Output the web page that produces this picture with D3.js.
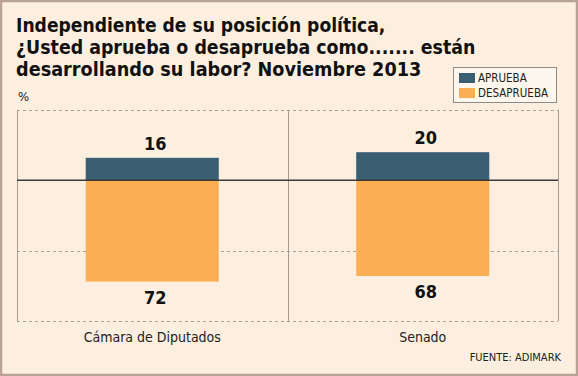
<!DOCTYPE html>
<html>
<head>
<meta charset="utf-8">
<script src="https://cdn.jsdelivr.net/npm/d3@7"></script>
<style>
  html, body { margin: 0; padding: 0; background: #fcefdf; }
  #chart { width: 578px; height: 376px; }
  text { font-family: "DejaVu Sans", Verdana, sans-serif; font-stretch: condensed; }
  text.title { font-stretch: normal; }
</style>
</head>
<body>
<div id="chart"></div>
<script>
const categories = ["Cámara de Diputados", "Senado"];
const aprueba = [16, 20];
const desaprueba = [72, 68];
const seriesNames = ["APRUEBA", "DESAPRUEBA"];
const gridValues = [50, 0, -50, -100];
const titleLines = [
  "Independiente de su posición política,",
  "¿Usted aprueba o desaprueba como....... están",
  "desarrollando su labor? Noviembre 2013"
];
const titleWidths = [369, 459, 405];
const source = "FUENTE: ADIMARK";

const width = 578;
const height = 376;
const margin = {top: 110, left: 17, right: 20, bottom: 55};
const colors = {aprueba: "#3a5f72", desaprueba: "#fbaf55"};

const svg = d3.select("#chart")
    .append("svg")
    .attr("width", width)
    .attr("height", height);

// background + outer frame
svg.append("rect")
    .attr("x", 1).attr("y", 1)
    .attr("width", width - 2).attr("height", height - 2)
    .attr("fill", "#fcefdf")
    .attr("stroke", "#b8a294")
    .attr("stroke-width", 2.5);

const xScale = d3.scaleBand()
    .domain(categories)
    .range([margin.left, width - margin.right])
    .paddingInner(0.508)
    .paddingOuter(0.254);

// panels (one per category)
const panelScale = d3.scaleBand()
    .domain(categories)
    .range([margin.left, width - margin.right]);

const yScale = d3.scaleLinear()
    .domain([-100, 50])
    .range([height - margin.bottom, margin.top]);

// title - squeezed horizontally to the width of the original lettering
svg.selectAll(".title")
    .data(titleLines)
    .enter()
    .append("text")
      .attr("class", "title")
      .attr("x", 0)
      .attr("y", 0)
      .attr("font-size", 18.8)
      .attr("font-weight", "bold")
      .attr("fill", "#111")
      .text(d => d)
      .attr("transform", function(d, i) {
        const sx = titleWidths[i] / this.getComputedTextLength();
        return `translate(16,${32 + i * 22}) scale(${sx},1)`;
      });

svg.append("text")
    .attr("x", 18)
    .attr("y", 101)
    .attr("font-size", 13)
    .attr("fill", "#222")
    .text("%");

// gridlines
svg.selectAll(".grid")
    .data(gridValues.filter(d => d !== 0))
    .enter()
    .append("line")
      .attr("class", "grid")
      .attr("x1", margin.left)
      .attr("x2", width - margin.right)
      .attr("y1", d => Math.round(yScale(d)) + 0.5)
      .attr("y2", d => Math.round(yScale(d)) + 0.5)
      .attr("stroke", "#aaa095")
      .attr("stroke-dasharray", "3,3");

// panel borders
const vLines = categories.map(c => panelScale(c)).concat([width - margin.right]);
svg.selectAll(".vline")
    .data(vLines)
    .enter()
    .append("line")
      .attr("class", "vline")
      .attr("x1", d => Math.round(d) + 0.5)
      .attr("x2", d => Math.round(d) + 0.5)
      .attr("y1", yScale(50))
      .attr("y2", yScale(-100))
      .attr("stroke", "#a89c92");

// bars
svg.selectAll(".bar-a")
    .data(aprueba)
    .enter()
    .append("rect")
      .attr("class", "bar-a")
      .attr("x", (d, i) => xScale(categories[i]))
      .attr("width", xScale.bandwidth())
      .attr("y", d => yScale(d))
      .attr("height", d => yScale(0) - yScale(d))
      .attr("fill", colors.aprueba);

svg.selectAll(".bar-d")
    .data(desaprueba)
    .enter()
    .append("rect")
      .attr("class", "bar-d")
      .attr("x", (d, i) => xScale(categories[i]))
      .attr("width", xScale.bandwidth())
      .attr("y", yScale(0))
      .attr("height", d => yScale(-d) - yScale(0))
      .attr("fill", colors.desaprueba);

// zero line
svg.append("line")
    .attr("x1", margin.left)
    .attr("x2", width - margin.right)
    .attr("y1", yScale(0))
    .attr("y2", yScale(0))
    .attr("stroke", "#3c3a38")
    .attr("stroke-width", 1.5);

// value labels
svg.selectAll(".lab-a")
    .data(aprueba)
    .enter()
    .append("text")
      .attr("class", "lab-a")
      .attr("x", (d, i) => xScale(categories[i]) + xScale.bandwidth() / 2 + 3)
      .attr("y", d => yScale(d) - 8)
      .attr("text-anchor", "middle")
      .attr("font-size", 18)
      .attr("font-weight", "bold")
      .attr("fill", "#111")
      .text(d => d);

svg.selectAll(".lab-d")
    .data(desaprueba)
    .enter()
    .append("text")
      .attr("class", "lab-d")
      .attr("x", (d, i) => xScale(categories[i]) + xScale.bandwidth() / 2 + 3)
      .attr("y", d => yScale(-d) + 22)
      .attr("text-anchor", "middle")
      .attr("font-size", 18)
      .attr("font-weight", "bold")
      .attr("fill", "#111")
      .text(d => d);

// category axis labels
svg.selectAll(".cat")
    .data(categories)
    .enter()
    .append("text")
      .attr("class", "cat")
      .attr("x", d => xScale(d) + xScale.bandwidth() / 2)
      .attr("y", 342)
      .attr("text-anchor", "middle")
      .attr("font-size", 14)
      .attr("fill", "#222")
      .text(d => d);

// legend
const legend = svg.append("g").attr("transform", "translate(453,67)");
legend.append("rect")
    .attr("x", 0.5).attr("y", 0.5)
    .attr("width", 103).attr("height", 35)
    .attr("fill", "#fdf6ec")
    .attr("stroke", "#8f8a86");
const legendColors = [colors.aprueba, colors.desaprueba];
seriesNames.forEach((name, i) => {
  legend.append("rect")
      .attr("x", 6).attr("y", 6 + i * 15)
      .attr("width", 16).attr("height", 10)
      .attr("fill", legendColors[i]);
  legend.append("text")
      .attr("x", 25).attr("y", 15 + i * 15)
      .attr("font-size", 11.5)
      .attr("fill", "#222")
      .text(name);
});

svg.append("text")
    .attr("x", 561)
    .attr("y", 361)
    .attr("text-anchor", "end")
    .attr("font-size", 11)
    .attr("fill", "#222")
    .text(source);
</script>
</body>
</html>
